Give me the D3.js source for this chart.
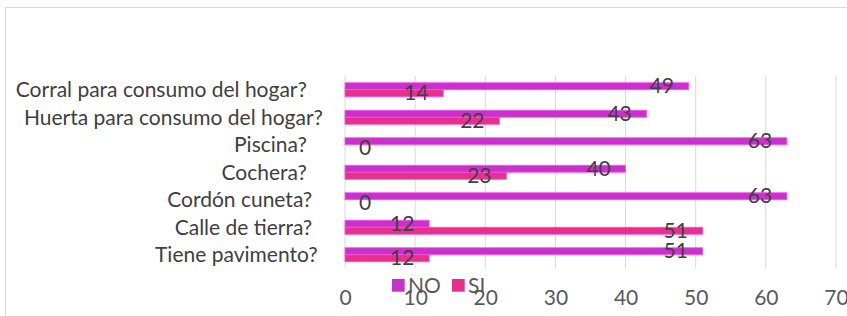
<!DOCTYPE html>
<html lang="en">
<head>
    <meta charset="UTF-8">
    <title>Encuesta vivienda</title>
    <script src="https://d3js.org/d3.v7.min.js"></script>
    <style>
        body { margin: 0; padding: 0; background: #fff; }
        svg { display: block; font-family: Lato, "Liberation Sans", sans-serif; }
        .cat-label { white-space: pre; }
    </style>
</head>
<body>
    <div id="chart"></div>

    <script>
        // Data
        const categories = [
            "Corral para consumo del hogar?   ",
            "Huerta para consumo del hogar?",
            "Piscina?   ",
            "Cochera?   ",
            "Cordón cuneta?  ",
            "Calle de tierra?  ",
            "Tiene pavimento? "
        ];
        const noValues = [49, 43, 63, 40, 63, 12, 51];
        const siValues = [14, 22, 0, 23, 0, 51, 12];
        const seriesNames = ["NO", "SI"];
        const seriesColors = ["#c832c8", "#e6308c"];
        const xTicks = [0, 10, 20, 30, 40, 50, 60, 70];

        const width = 847, height = 316;
        const plot = {left: 345, right: 836, top: 76, bottom: 268.5};
        const fontSize = 21;

        const svg = d3.select("#chart").append("svg")
            .attr("width", width)
            .attr("height", height);

        // chart frame (cut off at right and bottom like the original)
        svg.append("rect")
            .attr("x", 5.5).attr("y", 7.5)
            .attr("width", 1000).attr("height", 500)
            .attr("fill", "none")
            .attr("stroke", "#d9d9d9");

        const x = d3.scaleLinear().domain([0, 70]).range([plot.left, plot.right]);
        const y = d3.scaleBand()
            .domain(categories)
            .range([plot.top, plot.bottom])
            .paddingInner(0.49)
            .paddingOuter(0.245);
        const ySub = d3.scaleBand().domain(seriesNames).range([0, y.bandwidth()]);

        // gridlines
        svg.append("g")
            .selectAll("line")
            .data(xTicks.slice(1))
            .join("line")
            .attr("x1", d => x(d)).attr("x2", d => x(d))
            .attr("y1", plot.top).attr("y2", plot.bottom)
            .attr("stroke", "#d9d9d9")
            .attr("stroke-width", 1);

        // category axis line
        svg.append("line")
            .attr("x1", x(0)).attr("x2", x(0))
            .attr("y1", plot.top).attr("y2", plot.bottom)
            .attr("stroke", "#d9d9d9");

        // x axis tick labels
        const xAxis = svg.append("g")
            .attr("transform", `translate(0,${plot.bottom})`)
            .call(d3.axisBottom(x).tickValues(xTicks).tickSize(0).tickPadding(22));
        xAxis.select(".domain").remove();
        xAxis.selectAll("text")
            .attr("font-family", "Lato, sans-serif")
            .attr("font-size", fontSize)
            .attr("fill", "#595959");

        // category labels
        svg.append("g")
            .selectAll("text")
            .data(categories)
            .join("text")
            .attr("class", "cat-label")
            .attr("x", 323)
            .attr("y", d => y(d) + y.bandwidth() / 2 + 7.5)
            .attr("text-anchor", "end")
            .attr("font-size", fontSize)
            .attr("fill", "#404040")
            .text(d => d);

        const rows = categories.map((c, i) => ({cat: c, values: [noValues[i], siValues[i]]}));

        // bars
        const groups = svg.append("g")
            .selectAll("g")
            .data(rows)
            .join("g")
            .attr("transform", d => `translate(0,${y(d.cat)})`);

        groups.selectAll("rect")
            .data(d => d.values.map((v, j) => ({name: seriesNames[j], value: v, color: seriesColors[j]})))
            .join("rect")
            .attr("x", x(0))
            .attr("y", d => ySub(d.name))
            .attr("width", d => x(d.value) - x(0))
            .attr("height", ySub.bandwidth())
            .attr("fill", d => d.color)
            .attr("stroke", d => d.value > 0 ? d3.color(d.color).brighter(1.3) : "none")
            .attr("stroke-width", 0.8);

        // data labels
        groups.selectAll("text")
            .data(d => d.values.map((v, j) => ({name: seriesNames[j], value: v})))
            .join("text")
            .attr("x", d => Math.max(x(d.value) - 27, x(0) + 20))
            .attr("y", d => ySub(d.name) + ySub.bandwidth() / 2 + 7)
            .attr("text-anchor", "middle")
            .attr("font-size", fontSize)
            .attr("fill", "#404040")
            .text(d => d.value);

        // legend (sits over the axis labels, as in the original)
        const legend = svg.append("g")
            .selectAll("g")
            .data(seriesNames)
            .join("g")
            .attr("transform", (d, i) => `translate(${392 + i * 60},279)`);
        legend.append("rect")
            .attr("width", 12.7).attr("height", 12.7)
            .attr("fill", (d, i) => seriesColors[i]);
        legend.append("text")
            .attr("x", 16).attr("y", 14)
            .attr("font-size", fontSize)
            .attr("fill", "#595959")
            .text(d => d);
    </script>
</body>
</html>
